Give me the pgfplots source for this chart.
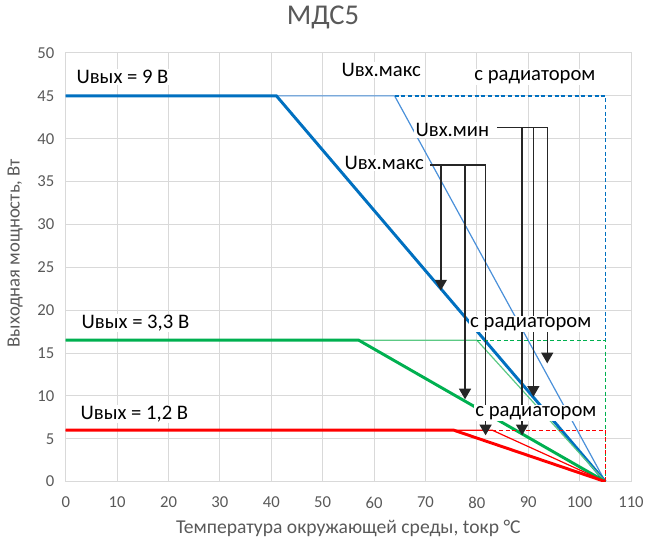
\documentclass[border=0pt]{standalone}
\usepackage{fontspec}
\setmainfont{Carlito}
\usepackage{pgfplots}
\pgfplotsset{compat=1.18}
\usetikzlibrary{arrows.meta}
\definecolor{cblue}{HTML}{0070C0}
\definecolor{tblue}{HTML}{4A90D9}
\definecolor{cgreen}{HTML}{00B050}
\definecolor{tgreen}{HTML}{5CC984}
\definecolor{cred}{HTML}{FF0000}
\definecolor{arrowc}{HTML}{262626}
\definecolor{gridc}{HTML}{D9D9D9}
\definecolor{textgray}{HTML}{595959}
\tikzset{lbl/.style={font=\fontsize{15.5}{17}\selectfont, fill=white, inner sep=1pt, text=black},
  arr/.style={arrowc, line width=1.05pt, -{Triangle[width=9pt,length=8pt]}}}
\begin{document}
\begin{tikzpicture}
\useasboundingbox (-49.3pt,-45.2pt) rectangle (435.25pt,361.25pt);
\begin{axis}[
  at={(0,0)}, anchor=south west,
  scale only axis, width=424pt, height=321.5pt,
  xmin=0, xmax=110, ymin=0, ymax=50,
  xtick={0,10,...,110}, ytick={0,5,...,50},
  grid=major, major grid style={color=gridc, line width=0.75pt},
  axis line style={draw=gridc, line width=0.75pt},
  tick style={draw=none},
  /pgf/number format/assume math mode=true,
  tick label style={font=\fontsize{12.5}{14}\selectfont, text=textgray},
  xticklabel style={yshift=-8pt},
  yticklabel style={xshift=-5pt},
  title={МДС5},
  title style={font=\fontsize{21.5}{24}\selectfont, text=textgray, at={(axis description cs:0.455,1)}, anchor=center, yshift=20.6pt},
  xlabel={Температура окружающей среды, tокр °C},
  xlabel style={font=\fontsize{14.7}{16}\selectfont, text=textgray, at={(axis description cs:0.5,0)}, anchor=center, yshift=-35pt},
  ylabel={Выходная мощность, Вт},
  ylabel style={font=\fontsize{14}{16}\selectfont, text=textgray, at={(axis description cs:0,0.533)}, anchor=center, yshift=38pt},
  every axis plot/.append style={no marks},
]
% blue (Uвых = 9 В)
\addplot[tblue, line width=0.9pt] coordinates {(0,45)(64,45)(105,0)};
\addplot[cblue, line width=2.2pt] coordinates {(0,45)(41,45)(105,0)};
\addplot[cblue, line width=1pt, dash pattern=on 3pt off 2pt] coordinates {(64,45)(105,45)(105,0)};
% green (Uвых = 3,3 В)
\addplot[tgreen, line width=0.9pt] coordinates {(0,16.5)(80,16.5)(105,0)};
\addplot[cgreen, line width=2.2pt] coordinates {(0,16.5)(57,16.5)(105,0)};
\addplot[cgreen, line width=1pt, dash pattern=on 3pt off 2pt] coordinates {(80,16.5)(105,16.5)(105,0)};
% red (Uвых = 1,2 В)
\addplot[cred, line width=0.9pt] coordinates {(0,6)(83,6)(105,0)};
\addplot[cred, line width=2.2pt] coordinates {(0,6)(75.5,6)(105,0)};
\addplot[cred, line width=1pt, dash pattern=on 3pt off 2pt] coordinates {(83,6)(105,6)(105,0)};
% arrows Uвх.макс
\addplot[arr] coordinates {(70.9,36.95)(81.7,36.95)(81.7,5.4)};
\addplot[arr] coordinates {(73,36.95)(73,22.3)};
\addplot[arr] coordinates {(77.7,36.95)(77.7,9.6)};
% arrows Uвх.мин
\addplot[arr] coordinates {(83.9,41.3)(93.7,41.3)(93.7,13.8)};
\addplot[arr] coordinates {(88.8,41.3)(88.8,5.4)};
\addplot[arr] coordinates {(91,41.3)(91,9.9)};
% labels
\node[lbl, anchor=west] at (axis cs:1.8,47.2) {Uвых = 9 В};
\node[lbl] at (axis cs:61.4,48.0) {Uвх.макс};
\node[lbl] at (axis cs:91.3,47.2) {с радиатором};
\node[lbl, anchor=east] at (axis cs:82.7,41.0) {Uвх.мин};
\node[lbl, anchor=east] at (axis cs:70.0,37.2) {Uвх.макс};
\node[lbl, anchor=west] at (axis cs:2.8,18.5) {Uвых = 3,3 В};
\node[lbl] at (axis cs:90.5,18.4) {с радиатором};
\node[lbl, anchor=west] at (axis cs:2.6,7.9) {Uвых = 1,2 В};
\node[lbl] at (axis cs:91.5,8.0) {с радиатором};
\end{axis}
\end{tikzpicture}
\end{document}
